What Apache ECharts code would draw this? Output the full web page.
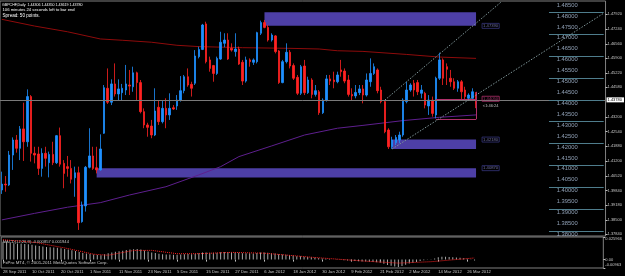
<!DOCTYPE html>
<html>
<head>
<meta charset="utf-8">
<title>GBPCHF Daily</title>
<script src="https://cdn.jsdelivr.net/npm/echarts@6.0.0/dist/echarts.min.js"></script>
<style>
  html, body { margin: 0; padding: 0; background: #000; }
  #chart { width: 625px; height: 276px; }
</style>
</head>
<body>
<div id="chart"></div>
<script>
// time axis labels, one every 8 bars starting at bar 0
const dateTicks = ['28 Sep 2011', '10 Oct 2011', '20 Oct 2011', '1 Nov 2011', '11 Nov 2011', '23 Nov 2011',
  '5 Dec 2011', '15 Dec 2011', '27 Dec 2011', '6 Jan 2012', '18 Jan 2012', '30 Jan 2012', '9 Feb 2012',
  '21 Feb 2012', '2 Mar 2012', '14 Mar 2012', '26 Mar 2012'];

// daily candles [open, close, low, high]
const candles = [
  [1.3987, 1.4014, 1.3969, 1.4071], [1.4014, 1.4010, 1.3979, 1.4051], [1.4010, 1.4147, 1.4005, 1.4166],
  [1.4147, 1.4216, 1.4079, 1.4228], [1.4216, 1.4178, 1.4158, 1.4239], [1.4178, 1.4267, 1.4124, 1.4280],
  [1.4267, 1.4208, 1.4120, 1.4387], [1.4208, 1.4415, 1.4185, 1.4448], [1.4415, 1.4155, 1.4117, 1.4422],
  [1.4155, 1.4147, 1.4109, 1.4185], [1.4152, 1.4086, 1.4056, 1.4185], [1.4086, 1.4155, 1.4048, 1.4178],
  [1.4155, 1.4132, 1.4094, 1.4185], [1.4112, 1.4150, 1.4045, 1.4163], [1.4150, 1.4112, 1.4101, 1.4208],
  [1.4112, 1.4236, 1.4106, 1.4239], [1.4236, 1.4105, 1.4094, 1.4273], [1.4109, 1.4063, 1.3995, 1.4124],
  [1.4094, 1.4086, 1.4048, 1.4143], [1.4086, 1.4036, 1.4017, 1.4124], [1.4043, 1.4066, 1.3956, 1.4094],
  [1.4066, 1.3837, 1.3804, 1.4094], [1.3842, 1.3918, 1.3837, 1.3934], [1.3914, 1.4091, 1.3888, 1.4097],
  [1.4091, 1.4143, 1.4086, 1.4270], [1.4143, 1.4086, 1.4079, 1.4185], [1.4089, 1.4079, 1.4063, 1.4185],
  [1.4079, 1.4175, 1.4076, 1.4242], [1.4247, 1.4456, 1.4244, 1.4468], [1.4453, 1.4389, 1.4381, 1.4544],
  [1.4389, 1.4473, 1.4376, 1.4494], [1.4473, 1.4427, 1.4415, 1.4567], [1.4427, 1.4450, 1.4399, 1.4494],
  [1.4433, 1.4453, 1.4399, 1.4473], [1.4445, 1.4473, 1.4422, 1.4560], [1.4468, 1.4463, 1.4422, 1.4537],
  [1.4460, 1.4524, 1.4437, 1.4552], [1.4524, 1.4479, 1.4399, 1.4529], [1.4479, 1.4346, 1.4338, 1.4491],
  [1.4346, 1.4285, 1.4270, 1.4361], [1.4285, 1.4274, 1.4231, 1.4295], [1.4280, 1.4239, 1.4224, 1.4308],
  [1.4239, 1.4349, 1.4234, 1.4453], [1.4366, 1.4300, 1.4285, 1.4399], [1.4300, 1.4361, 1.4292, 1.4399],
  [1.4361, 1.4331, 1.4270, 1.4407], [1.4331, 1.4361, 1.4308, 1.4430], [1.4364, 1.4358, 1.4354, 1.4376],
  [1.4372, 1.4399, 1.4354, 1.4422], [1.4399, 1.4442, 1.4392, 1.4509], [1.4442, 1.4506, 1.4430, 1.4514],
  [1.4506, 1.4468, 1.4460, 1.4544], [1.4471, 1.4453, 1.4415, 1.4483], [1.4476, 1.4601, 1.4468, 1.4628],
  [1.4598, 1.4631, 1.4590, 1.4644], [1.4631, 1.4743, 1.4628, 1.4748], [1.4748, 1.4575, 1.4567, 1.4758],
  [1.4583, 1.4544, 1.4529, 1.4598], [1.4557, 1.4521, 1.4483, 1.4560], [1.4521, 1.4590, 1.4514, 1.4598],
  [1.4587, 1.4664, 1.4583, 1.4712], [1.4659, 1.4674, 1.4641, 1.4705], [1.4674, 1.4587, 1.4583, 1.4705],
  [1.4636, 1.4628, 1.4621, 1.4659], [1.4621, 1.4633, 1.4598, 1.4705], [1.4633, 1.4564, 1.4560, 1.4644],
  [1.4572, 1.4486, 1.4468, 1.4583], [1.4486, 1.4583, 1.4479, 1.4598], [1.4583, 1.4575, 1.4552, 1.4590],
  [1.4572, 1.4583, 1.4560, 1.4590], [1.4575, 1.4708, 1.4567, 1.4712], [1.4705, 1.4754, 1.4697, 1.4763],
  [1.4754, 1.4732, 1.4728, 1.4766], [1.4732, 1.4674, 1.4667, 1.4743], [1.4674, 1.4697, 1.4667, 1.4705],
  [1.4693, 1.4621, 1.4613, 1.4697], [1.4624, 1.4479, 1.4473, 1.4628], [1.4479, 1.4575, 1.4476, 1.4583],
  [1.4575, 1.4618, 1.4567, 1.4659], [1.4618, 1.4555, 1.4544, 1.4628], [1.4557, 1.4499, 1.4491, 1.4567],
  [1.4503, 1.4430, 1.4422, 1.4514], [1.4430, 1.4552, 1.4422, 1.4560], [1.4555, 1.4433, 1.4422, 1.4583],
  [1.4433, 1.4491, 1.4427, 1.4506], [1.4491, 1.4425, 1.4407, 1.4499], [1.4425, 1.4442, 1.4415, 1.4468],
  [1.4437, 1.4341, 1.4331, 1.4445], [1.4341, 1.4399, 1.4335, 1.4407], [1.4399, 1.4496, 1.4392, 1.4514],
  [1.4496, 1.4486, 1.4468, 1.4514], [1.4491, 1.4483, 1.4453, 1.4529], [1.4483, 1.4514, 1.4476, 1.4529],
  [1.4537, 1.4529, 1.4506, 1.4583], [1.4532, 1.4486, 1.4476, 1.4544], [1.4491, 1.4425, 1.4415, 1.4514],
  [1.4425, 1.4418, 1.4399, 1.4453], [1.4418, 1.4434, 1.4407, 1.4468], [1.4433, 1.4450, 1.4422, 1.4468],
  [1.4450, 1.4422, 1.4384, 1.4468], [1.4422, 1.4491, 1.4415, 1.4521], [1.4483, 1.4521, 1.4460, 1.4590],
  [1.4521, 1.4552, 1.4514, 1.4567], [1.4537, 1.4442, 1.4430, 1.4544], [1.4445, 1.4392, 1.4384, 1.4460],
  [1.4392, 1.4254, 1.4247, 1.4399], [1.4262, 1.4185, 1.4175, 1.4270], [1.4185, 1.4216, 1.4175, 1.4231],
  [1.4204, 1.4228, 1.4193, 1.4239], [1.4216, 1.4239, 1.4201, 1.4254], [1.4239, 1.4399, 1.4231, 1.4407],
  [1.4392, 1.4445, 1.4384, 1.4483], [1.4445, 1.4468, 1.4437, 1.4476], [1.4476, 1.4445, 1.4415, 1.4491],
  [1.4479, 1.4437, 1.4422, 1.4491], [1.4430, 1.4445, 1.4407, 1.4468], [1.4430, 1.4376, 1.4361, 1.4437],
  [1.4372, 1.4399, 1.4331, 1.4422], [1.4399, 1.4338, 1.4323, 1.4415], [1.4331, 1.4499, 1.4315, 1.4506],
  [1.4499, 1.4583, 1.4491, 1.4616], [1.4583, 1.4499, 1.4468, 1.4590], [1.4552, 1.4540, 1.4468, 1.4567],
  [1.4499, 1.4483, 1.4460, 1.4537], [1.4483, 1.4453, 1.4445, 1.4499], [1.4453, 1.4483, 1.4437, 1.4491],
  [1.4483, 1.4437, 1.4399, 1.4491], [1.4445, 1.4415, 1.4399, 1.4460], [1.4407, 1.4422, 1.4399, 1.4430],
  [1.4407, 1.4437, 1.4399, 1.4453], [1.44306, 1.43780, 1.43619, 1.44350]
];

// moving averages, read at sample bars
const redMaBars = [0, 9, 18, 27, 33, 41, 48, 54, 66, 79, 87, 92, 99, 111, 120, 130];
const redMaVals = [1.4769, 1.4738, 1.4712, 1.4679, 1.4673, 1.4664, 1.4650, 1.4644, 1.4639, 1.4636, 1.4633,
  1.4625, 1.4622, 1.4608, 1.4596, 1.4590];
const purpleMaBars = [0, 9, 18, 27, 35, 45, 54, 60, 65, 74, 83, 92, 99, 110, 120, 130];
const purpleMaVals = [1.3850, 1.3880, 1.3908, 1.3929, 1.3964, 1.4002, 1.4056, 1.4094, 1.4140, 1.4189, 1.4239,
  1.4270, 1.4283, 1.4305, 1.4320, 1.4331];

// MACD(12,26,9) main histogram
const macdHist = [
  0.0204, 0.0199, 0.0194, 0.0189, 0.0185, 0.0181, 0.0178, 0.0175, 0.0170,
  0.0163, 0.0157, 0.0151, 0.0146, 0.0142, 0.0139, 0.0137, 0.0131,
  0.0123, 0.0116, 0.0108, 0.0100, 0.0086, 0.0076, 0.0070, 0.0065,
  0.0058, 0.0052, 0.0049, 0.0062,
  0.0072, 0.0081, 0.0089, 0.0096, 0.0103, 0.0110, 0.0115, 0.0120, 0.0122, 0.0115,
  0.0104, 0.0093, 0.0082, 0.0075, 0.0068, 0.0063, 0.0059, 0.0058,
  0.0056, 0.0057, 0.0059, 0.0063, 0.0064, 0.0062, 0.0067, 0.0073,
  0.0083, 0.0082, 0.0080, 0.0078, 0.0080, 0.0085, 0.0088, 0.0086,
  0.0085, 0.0083, 0.0079, 0.0074, 0.0074, 0.0072, 0.0070, 0.0076,
  0.0082, 0.0082, 0.0078, 0.0074, 0.0069, 0.0061, 0.0058, 0.0056,
  0.0052, 0.0046, 0.0040, 0.0038, 0.0034, 0.0031, 0.0027, 0.0024, 0.0016,
  0.0012, 0.0010, 0.0006, 0.0002, -0.0001, -0.0003, -0.0006, -0.0010, -0.0014, -0.0017, -0.0019, -0.0022,
  -0.0023, -0.0025, -0.0027, -0.0031, -0.0037, -0.0048, -0.0061, -0.0071, -0.0079,
  -0.0084, -0.0072, -0.0058, -0.0046, -0.0036,
  -0.0026, -0.0016, -0.0008, -0.0002, 0.0004, 0.0012, 0.0026, 0.0034, 0.0032, 0.0030, 0.0026, 0.0024,
  0.0020, 0.0016, 0.0010, 0.0004, -0.0009
];
const signalBars = [0, 9, 18, 25, 29, 36, 41, 48, 54, 63, 72, 81, 86, 90, 100, 109, 118, 130];
const signalVals = [0.0228, 0.0197, 0.0126, 0.0062, 0.0050, 0.0105, 0.0106, 0.0068, 0.0068, 0.0083, 0.0074,
  0.0042, 0.0024, 0.0012, -0.0018, -0.0040, -0.0024, 0.0019];

// price scale labels on the right
const priceTicks = [1.4792, 1.4724, 1.4656, 1.4590, 1.4522, 1.4458, 1.4320, 1.4254, 1.4188, 1.4120,
  1.4052, 1.3984, 1.3918, 1.3850, 1.3784];
const macdTicks = [0.025966, 0, -0.00963];
const lastPrice = 1.4378;

// round number ladder drawn inside the chart
const ladderLabels = [1.485, 1.48, 1.475, 1.47, 1.465, 1.46, 1.455, 1.45, 1.445, 1.44, 1.435, 1.43, 1.425,
  1.42, 1.415, 1.41, 1.405, 1.40, 1.395, 1.39, 1.385, 1.38];
const ladderLines = [1.48, 1.47, 1.46, 1.45, 1.44, 1.43, 1.42, 1.41, 1.40, 1.39, 1.38];

// zones: start bar, end bar, top, bottom, label
const zoneStart = [72, 107, 26];
const zoneTop = [1.4801, 1.4218, 1.4087];
const zoneBottom = [1.4739, 1.4175, 1.4044];
const zoneLabel = ['1.47390', '1.42180', '1.40870'];

// trend lines [bar, price] pairs
const upperTrend = [[105, 1.4399], [137, 1.4850]];
const lowerTrend = [[107, 1.4175], [165, 1.4797]];

const N = 166; // bars + empty shift area on the right
const LAST = 130;
const font = '"Liberation Sans", Arial, sans-serif';

const cats = Array.from({ length: N }, (_, i) => String(i));

function sparse(bars, vals) {
  const out = new Array(N).fill(null);
  bars.forEach((b, i) => { out[b] = vals[i]; });
  return out;
}

const tickShown = (i) => i % 8 === 0 && i / 8 < dateTicks.length;

const seg = (a, b, color, type) => [
  { coord: a, lineStyle: { color, width: 1, type: type || 'solid' }, label: { show: false } },
  { coord: b, lineStyle: { color, width: 1, type: type || 'solid' }, label: { show: false } }
];

const zoneAreas = zoneStart.map((s, i) => [
  { coord: [s, zoneTop[i]] },
  { coord: [LAST, zoneBottom[i]] }
]);

const markLines = [
  {
    yAxis: lastPrice,
    lineStyle: { color: '#7a7a7a', width: 1, type: 'solid' },
    label: {
      show: true, position: 'end', distance: 1, formatter: '1.43780',
      backgroundColor: '#ffffff', color: '#000', fontSize: 4, fontFamily: font, padding: [1, 2, 0, 1]
    }
  }
];
ladderLines.forEach((lv) => markLines.push(seg([150, lv], [165, lv], '#4f7d8c')));
// magenta range box on the last bars
markLines.push(seg([119, 1.4405], [LAST, 1.4405], '#b0306a'));
markLines.push(seg([119, 1.4311], [LAST, 1.4311], '#b0306a'));
markLines.push(seg([LAST, 1.4437], [LAST, 1.4311], '#b0306a'));
// trend lines
markLines.push(seg(upperTrend[0], upperTrend[1], '#7f9598', [1.5, 1.5]));
markLines.push(seg(lowerTrend[0], lowerTrend[1], '#7f9598', [1.5, 1.5]));

// text labels placed on the price scale
const textLabels = [];
ladderLabels.forEach((lv) => textLabels.push({
  value: [155, lv],
  label: { show: true, position: 'bottom', distance: 0.5, formatter: lv.toFixed(5), fontSize: 5.8, color: '#b0c4de', fontFamily: font }
}));
zoneLabel.forEach((t, i) => textLabels.push({
  value: [134, i === 0 ? zoneBottom[i] : zoneTop[i]],
  label: {
    show: true, position: 'inside', formatter: t, fontSize: 4.2, color: '#8a8ac8', fontFamily: font,
    borderColor: '#35357a', borderWidth: 1, padding: [1, 1, 0, 1]
  }
}));
textLabels.push({
  value: [134, 1.4405],
  label: {
    show: true, position: 'inside', formatter: '1.44050', fontSize: 4.2, color: '#c04080', fontFamily: font,
    borderColor: '#b0306a', borderWidth: 1, padding: [1, 1, 0, 1]
  }
});
textLabels.push({
  value: [134, 1.4372],
  label: { show: true, position: 'inside', formatter: '<1:46:24', fontSize: 4, color: '#e0e0e0', fontFamily: font }
});

const chart = echarts.init(document.getElementById('chart'));

const option = {
  animation: false,
  backgroundColor: '#000000',
  textStyle: { fontFamily: font },
  grid: [
    { left: 0, right: 16, top: 1, height: 235, show: true, borderColor: '#808080', borderWidth: 1, backgroundColor: 'transparent' },
    { left: 0, right: 16, top: 237, height: 31, show: true, borderColor: '#808080', borderWidth: 1, backgroundColor: 'transparent' }
  ],
  xAxis: [
    {
      type: 'category', gridIndex: 0, data: cats, boundaryGap: true,
      axisLine: { show: false }, axisTick: { show: false }, axisLabel: { show: false }, splitLine: { show: false }
    },
    {
      type: 'category', gridIndex: 1, data: cats, boundaryGap: true,
      axisLine: { show: false },
      axisTick: { show: true, interval: tickShown, alignWithLabel: true, length: 2, lineStyle: { color: '#c0c0c0' } },
      axisLabel: {
        interval: tickShown, align: 'left', margin: 2, fontSize: 4.2, color: '#c8c8c8',
        formatter: (v, i) => dateTicks[i / 8] || ''
      },
      splitLine: { show: false }
    }
  ],
  yAxis: [
    {
      type: 'value', gridIndex: 0, position: 'right', min: 1.37762, max: 1.48529, scale: true,
      axisLine: { show: false },
      axisTick: { show: true, customValues: priceTicks, length: 2, lineStyle: { color: '#c0c0c0' } },
      axisLabel: { customValues: priceTicks, margin: 2, fontSize: 4, color: '#c8c8c8', formatter: (v) => v.toFixed(5) },
      splitLine: { show: false }
    },
    {
      type: 'value', gridIndex: 1, position: 'right', min: -0.00963, max: 0.025966,
      axisLine: { show: false },
      axisTick: { show: true, customValues: macdTicks, length: 2, lineStyle: { color: '#c0c0c0' } },
      axisLabel: {
        customValues: macdTicks, margin: 2, fontSize: 4, color: '#c8c8c8',
        formatter: (v) => (v > 0.02 ? '{t|0.025966}' : v < 0 ? '{b|-0.00963}' : '0.00'),
        rich: {
          t: { fontSize: 4, color: '#c8c8c8', padding: [4, 0, 0, 0] },
          b: { fontSize: 4, color: '#c8c8c8', padding: [0, 0, 7, 0] }
        }
      },
      splitLine: { show: false }
    }
  ],
  graphic: [
    { type: 'text', left: 2, top: 2.9, style: { text: 'GBPCHF,Daily  1.44306 1.44350 1.43619 1.43780', fill: '#ffffff', font: '3.6px ' + font } },
    { type: 'text', left: 2.5, top: 7.6, style: { text: '106 minutes 24 seconds left to bar end', fill: '#ffffff', font: '4.2px ' + font } },
    { type: 'text', left: 2.5, top: 13.1, style: { text: 'Spread: 50 points.', fill: '#ffffff', font: '4.6px ' + font } },
    { type: 'text', left: 2.7, top: 239.6, style: { text: 'MACD(12,26,9) -0.000857 0.001944', fill: '#c8c8c8', font: '4.1px ' + font } },
    { type: 'text', left: 2.7, top: 261.2, style: { text: 'FxPro MT4, \u00a9 2001-2011 MetaQuotes Software Corp.', fill: '#c8c8c8', font: '4.4px ' + font } }
  ],
  series: [
    {
      name: 'GBPCHF', type: 'candlestick', xAxisIndex: 0, yAxisIndex: 0,
      data: candles, barWidth: 2,
      itemStyle: { color: '#1e90ff', color0: '#ff2222', borderColor: '#1e90ff', borderColor0: '#ff2222', borderWidth: 0.8 },
      markArea: {
        silent: true,
        itemStyle: { color: '#4d3fa6', borderWidth: 0 },
        label: { show: false },
        data: zoneAreas
      },
      markLine: {
        silent: true, symbol: ['none', 'none'], animation: false,
        label: { show: false },
        data: markLines
      }
    },
    {
      name: 'MA red', type: 'line', xAxisIndex: 0, yAxisIndex: 0,
      data: sparse(redMaBars, redMaVals), connectNulls: true, showSymbol: false, symbol: 'none',
      lineStyle: { color: '#8e0b0b', width: 1 }, z: 1
    },
    {
      name: 'MA purple', type: 'line', xAxisIndex: 0, yAxisIndex: 0,
      data: sparse(purpleMaBars, purpleMaVals), connectNulls: true, showSymbol: false, symbol: 'none',
      lineStyle: { color: '#5e1f8e', width: 1 }, z: 1
    },
    {
      name: 'labels', type: 'scatter', xAxisIndex: 0, yAxisIndex: 0,
      symbolSize: 0, data: textLabels, silent: true, z: 5
    },
    {
      name: 'MACD', type: 'bar', xAxisIndex: 1, yAxisIndex: 1,
      data: macdHist, barWidth: 1, itemStyle: { color: '#a8a8a8' }
    },
    {
      name: 'Signal', type: 'line', xAxisIndex: 1, yAxisIndex: 1,
      data: sparse(signalBars, signalVals), connectNulls: true, showSymbol: false, symbol: 'none',
      lineStyle: { color: '#ff2020', width: 1, type: [1, 1] }
    }
  ]
};

chart.setOption(option);
</script>
</body>
</html>
